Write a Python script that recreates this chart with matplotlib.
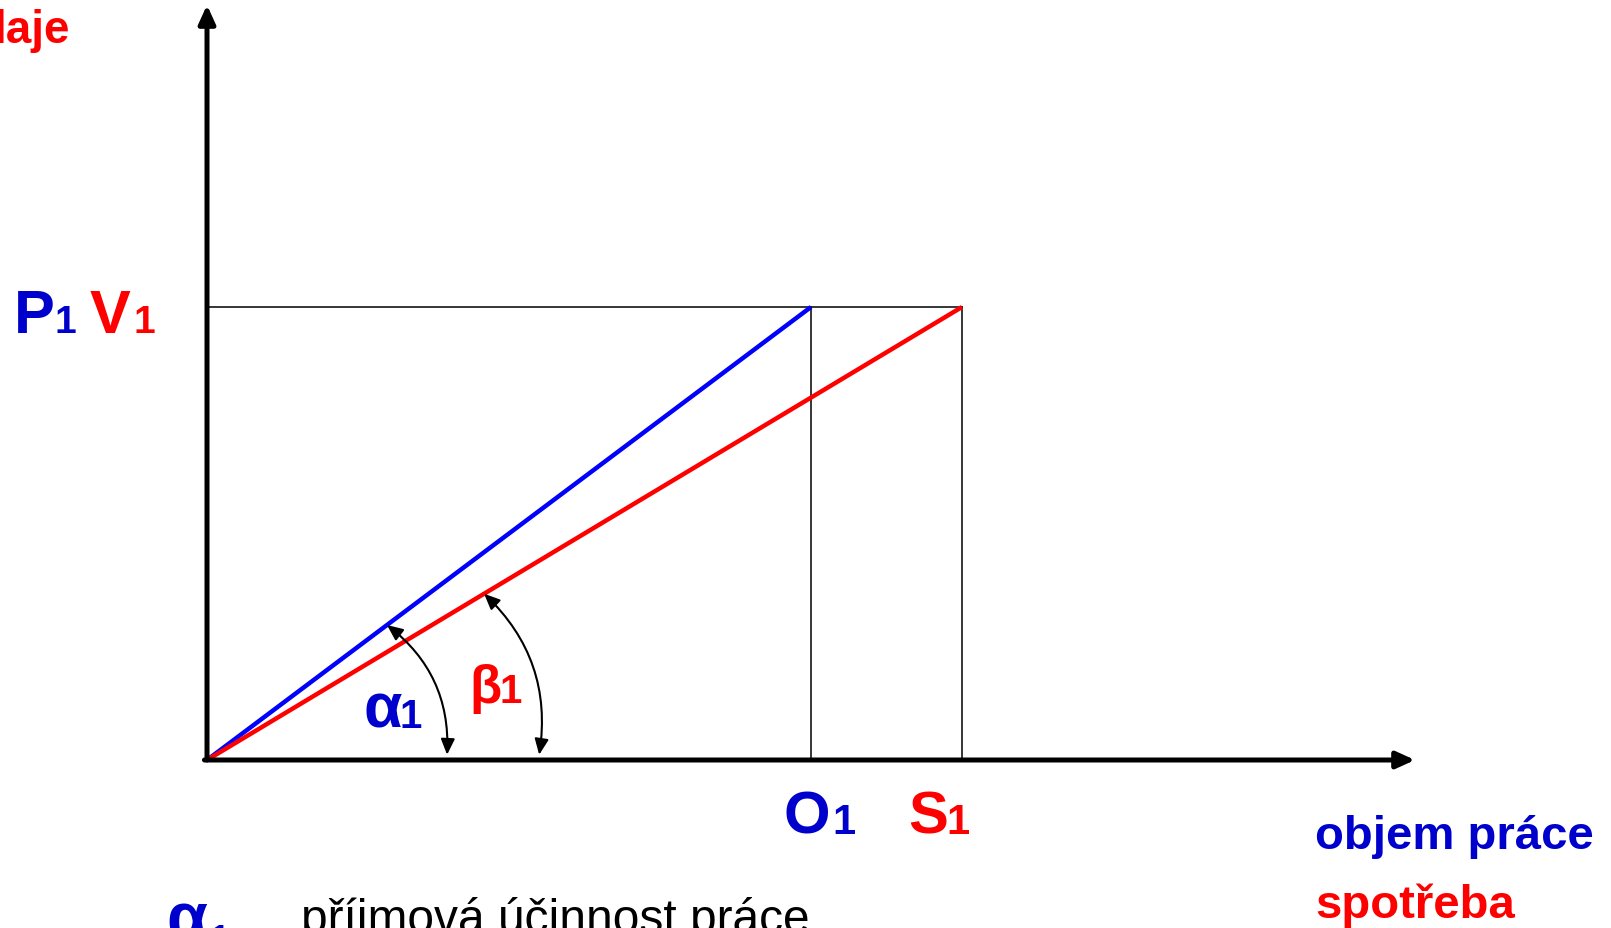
import numpy as np
import matplotlib.pyplot as plt
from matplotlib.patches import FancyArrowPatch

plt.rcParams['font.family'] = ['Liberation Sans', 'DejaVu Sans']

# values (one unit = O1 / 4)
o1 = 4.0      # objem práce O1
s1 = 5.0      # spotřeba S1
p1 = 3.0      # P1
v1 = 3.0      # V1
x_end = 8.0   # end of x axis
y_end = 5.0   # end of y axis

# angle arcs: distance of the arrow end on the x axis / on the line
arc_r_axis = [1.59, 2.20]
arc_r_line = [1.49, 2.14]

BLUE = '#0000ff'
BLUE_TXT = '#0000cc'
RED = '#ff0000'

W, H = 1611, 929
px = 151.0            # pixels per unit
x0_px, y0_px = 207, 761


def pos(x, y):
    # pixel position in the picture -> data coords
    return (x - x0_px) / px, (y0_px - y) / px


fig = plt.figure(figsize=(W / 100, H / 100), dpi=100)
ax = fig.add_axes([0, 0, 1, 1])
ax.set_xlim(-x0_px / px, (W - x0_px) / px)
ax.set_ylim(-(H - y0_px) / px, y0_px / px)
ax.axis('off')

# thin guide lines
ax.plot([0, s1], [p1, v1], color='black', lw=1.1)
ax.plot([o1, o1], [0, p1], color='black', lw=1.1)
ax.plot([s1, s1], [0, v1], color='black', lw=1.1)

# the two lines
ax.plot([0, o1], [0, p1], color=BLUE, lw=3.2, solid_capstyle='butt')
ax.plot([0, s1], [0, v1], color=RED, lw=3.2, solid_capstyle='butt')

# axes with arrows
for a, b in [((-0.017, 0), (x_end, 0)), ((0, 0), (0, y_end))]:
    ax.add_patch(FancyArrowPatch(a, b, arrowstyle='-|>,head_length=11,head_width=5',
                                 mutation_scale=1, lw=3.6, color='black',
                                 shrinkA=0, shrinkB=0, zorder=3))

# angle arcs
for ang, ra, rl in zip([np.arctan2(p1, o1), np.arctan2(v1, s1)], arc_r_axis, arc_r_line):
    start = (ra, 0.035)
    end = (rl * np.cos(ang), rl * np.sin(ang))
    ax.add_patch(FancyArrowPatch(start, end, connectionstyle='arc3,rad=0.26',
                                 arrowstyle='<|-|>,head_length=9.5,head_width=4.2',
                                 mutation_scale=1, lw=1.5, color='black',
                                 shrinkA=0, shrinkB=0, zorder=4))

tk = dict(fontweight='bold', va='baseline', ha='left')

ax.text(*pos(70, 43), 'laje', color=RED, fontsize=33, fontweight='bold', va='baseline', ha='right')

ax.text(*pos(14, 333), 'P', color=BLUE_TXT, fontsize=44, **tk)
ax.text(*pos(55, 333), '1', color=BLUE_TXT, fontsize=28, **tk)
ax.text(*pos(90, 333), 'V', color=RED, fontsize=44, **tk)
ax.text(*pos(134, 333), '1', color=RED, fontsize=28, **tk)

ax.text(*pos(783, 834), 'O', color=BLUE_TXT, fontsize=43, **tk)
ax.text(*pos(832, 834), '1', color=BLUE_TXT, fontsize=30, **tk)
ax.text(*pos(908, 834), 'S', color=RED, fontsize=43, **tk)
ax.text(*pos(946, 834), '1', color=RED, fontsize=30, **tk)

ax.text(*pos(364, 728), 'α', color=BLUE_TXT, fontsize=45, **tk)
ax.text(*pos(400, 728), '1', color=BLUE_TXT, fontsize=29, **tk)
ax.text(*pos(469, 703), 'β', color=RED, fontsize=38, **tk)
ax.text(*pos(499, 703), '1', color=RED, fontsize=29, **tk)

ax.text(*pos(166, 940), 'α', color=BLUE_TXT, fontsize=48, **tk)
ax.text(*pos(211, 948), '1', color=BLUE_TXT, fontsize=24, **tk)
ax.text(*pos(301, 933), 'příjmová účinnost práce', color='black', fontsize=34.5,
        va='baseline', ha='left')

ax.text(*pos(1315, 849), 'objem práce', color=BLUE_TXT, fontsize=34, **tk)
ax.text(*pos(1315, 918), 'spotřeba', color=RED, fontsize=34, **tk)

fig.savefig('out.png', dpi=100)
